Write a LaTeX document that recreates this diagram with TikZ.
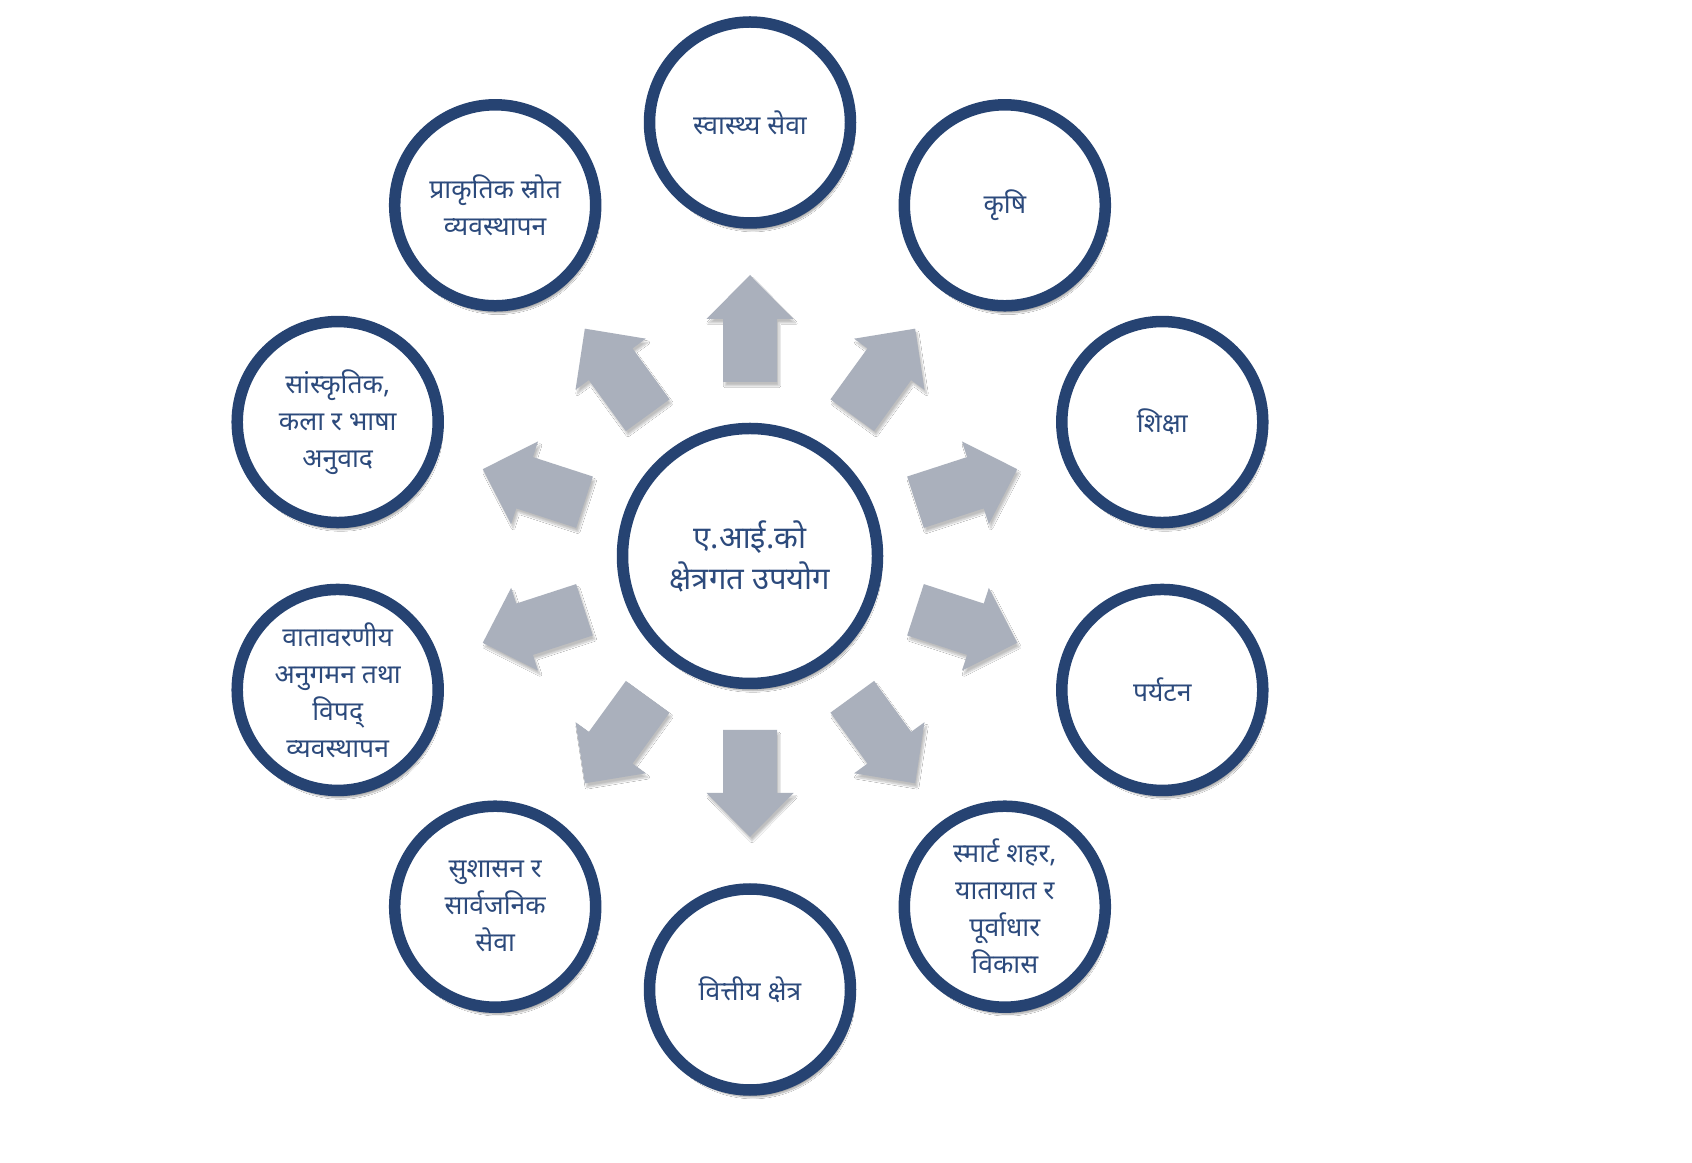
\documentclass[tikz,border=0pt]{standalone}
\usepackage{fontspec}
\newfontfamily\deva[Script=Devanagari]{Noto Sans}
\usetikzlibrary{shadows.blur,calc}
\definecolor{navy}{HTML}{264372}
\definecolor{txt}{HTML}{2C4A7C}
\definecolor{arr}{HTML}{AAB0BC}
\begin{document}
\begin{tikzpicture}[x=1pt,y=1pt,
  sector/.style={circle, draw=navy, line width=11.5pt, fill=white, minimum size=201pt,
    inner sep=0pt, align=center, text=txt, font=\deva\fontsize{26.5}{37}\selectfont,
    blur shadow={shadow xshift=3pt, shadow yshift=-7pt, shadow blur steps=12, shadow opacity=40}},
  hub/.style={sector, minimum size=255pt, font=\deva\fontsize{31}{41}\selectfont},
  blockarrow/.style={fill=arr,
    blur shadow={shadow xshift=2pt, shadow yshift=-4pt, shadow blur steps=8, shadow opacity=25}}]
\useasboundingbox (0,0) rectangle (1692,1162);
\fill[white] (0,0) rectangle (1692,1162);
\coordinate (c) at (750,606);
% block arrows
\foreach \a in {90,54,18,-18,-54,-90,-126,-162,162,126}{
  \path[blockarrow, shift={(c)}, rotate=\a]
    (174,-27) -- (237,-27) -- (237,-43.5) -- (281,0) -- (237,43.5) -- (237,27) -- (174,27) -- cycle;
}
\node[hub] (hub) at (c) {ए.आई.को\\क्षेत्रगत उपयोग};
\node[sector] (s1) at ($(c)+(90:433.5)$) {स्वास्थ्य सेवा};
\node[sector] (s2) at ($(c)+(54:433.5)$) {कृषि};
\node[sector] (s3) at ($(c)+(18:433.5)$) {शिक्षा};
\node[sector] (s4) at ($(c)+(-18:433.5)$) {पर्यटन};
\node[sector] (s5) at ($(c)+(-54:433.5)$) {स्मार्ट शहर,\\यातायात र\\पूर्वाधार\\विकास};
\node[sector] (s6) at ($(c)+(-90:433.5)$) {वित्तीय क्षेत्र};
\node[sector] (s7) at ($(c)+(-126:433.5)$) {सुशासन र\\सार्वजनिक\\सेवा};
\node[sector] (s8) at ($(c)+(-162:433.5)$) {वातावरणीय\\अनुगमन तथा\\विपद्\\व्यवस्थापन};
\node[sector] (s9) at ($(c)+(162:433.5)$) {सांस्कृतिक,\\कला र भाषा\\अनुवाद};
\node[sector] (s10) at ($(c)+(126:433.5)$) {प्राकृतिक स्रोत\\व्यवस्थापन};
\end{tikzpicture}
\end{document}
